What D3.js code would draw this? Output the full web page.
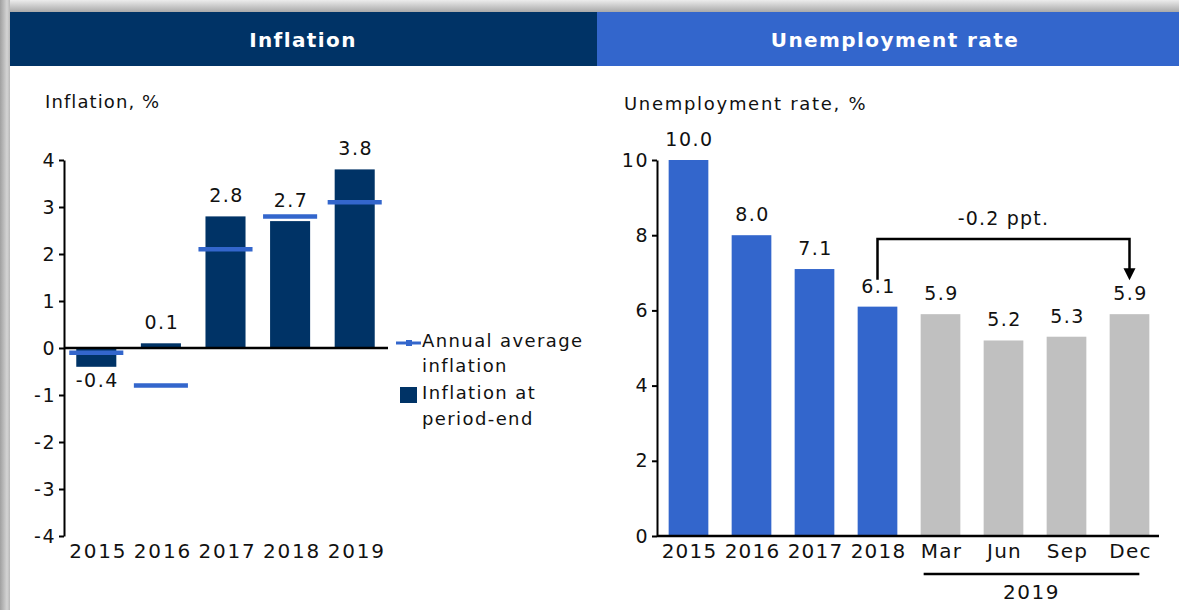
<!DOCTYPE html>
<html>
<head>
<meta charset="utf-8">
<script src="https://cdn.jsdelivr.net/npm/d3@7"></script>
<style>
  body { margin: 0; background: #fff; }
  text { font-family: "DejaVu Sans", Verdana, sans-serif; fill: #111; }
</style>
</head>
<body>
<script>

// inflation panel
var inflYears = ["2015", "2016", "2017", "2018", "2019"];
var inflEnd = [-0.4, 0.1, 2.8, 2.7, 3.8];       // inflation at period-end
var inflAvg = [-0.1, -0.8, 2.1, 2.8, 3.1];      // annual average inflation
var inflTicks = [-4, -3, -2, -1, 0, 1, 2, 3, 4];

// unemployment panel
var unempCats = ["2015", "2016", "2017", "2018", "Mar", "Jun", "Sep", "Dec"];
var unempVals = [10.0, 8.0, 7.1, 6.1, 5.9, 5.2, 5.3, 5.9];
var unempTicks = [0, 2, 4, 6, 8, 10];

var navy = "#003366", blue = "#3366cc", grey = "#c0c0c0";

var W = 1179, H = 610;
var svg = d3.select("body").append("svg")
    .attr("width", W)
    .attr("height", H);

var defs = svg.append("defs");
var gTop = defs.append("linearGradient").attr("id", "shTop")
    .attr("x1", 0).attr("y1", 0).attr("x2", 0).attr("y2", 1);
gTop.append("stop").attr("offset", "0%").attr("stop-color", "#ececec");
gTop.append("stop").attr("offset", "100%").attr("stop-color", "#a9a9a9");
var gLeft = defs.append("linearGradient").attr("id", "shLeft")
    .attr("x1", 0).attr("y1", 0).attr("x2", 1).attr("y2", 0);
gLeft.append("stop").attr("offset", "0%").attr("stop-color", "#a0a0a0");
gLeft.append("stop").attr("offset", "70%").attr("stop-color", "#d4d4d4");
gLeft.append("stop").attr("offset", "100%").attr("stop-color", "#b8b8b8");

// frame shadow
svg.append("rect").attr("x", 0).attr("y", 0).attr("width", W).attr("height", 12)
    .attr("fill", "url(#shTop)");
svg.append("rect").attr("x", 0).attr("y", 0).attr("width", 10).attr("height", H)
    .attr("fill", "url(#shLeft)");

// header bars
svg.append("rect").attr("x", 10).attr("y", 12).attr("width", 587).attr("height", 54).attr("fill", navy);
svg.append("rect").attr("x", 597).attr("y", 12).attr("width", W - 597).attr("height", 54).attr("fill", blue);

svg.append("text").attr("x", 303).attr("y", 47)
    .attr("text-anchor", "middle")
    .style("fill", "#fff").style("font-weight", "bold").style("font-size", "20px")
    .style("letter-spacing", "1.4px")
    .text("Inflation");
svg.append("text").attr("x", 895).attr("y", 47)
    .attr("text-anchor", "middle")
    .style("fill", "#fff").style("font-weight", "bold").style("font-size", "20px")
    .style("letter-spacing", "1.4px")
    .text("Unemployment rate");

// plain hyphen for negatives, like the original
var fmtTick = function (d) { return String(d); };

// ---------- left: inflation ----------
var xL = d3.scaleBand()
    .domain(inflYears)
    .range([64, 387])
    .paddingInner(0.38)
    .paddingOuter(0.19);

var yL = d3.scaleLinear()
    .domain([-4, 4])
    .range([536, 160]);

var left = svg.append("g");

left.append("text").attr("x", 45).attr("y", 108)
    .style("font-size", "18px").style("letter-spacing", "1.1px")
    .text("Inflation, %");

left.selectAll(".barL")
    .data(inflEnd)
    .enter().append("rect")
    .attr("class", "barL")
    .attr("x", function (d, i) { return xL(inflYears[i]); })
    .attr("y", function (d) { return yL(Math.max(0, d)); })
    .attr("width", xL.bandwidth())
    .attr("height", function (d) { return Math.abs(yL(d) - yL(0)); })
    .attr("fill", navy);

var yAxisL = d3.axisLeft(yL).tickValues(inflTicks).tickFormat(fmtTick)
    .tickSize(5).tickSizeOuter(0).tickPadding(3);
var gyL = left.append("g")
    .attr("transform", "translate(" + xL.range()[0] + ",0)")
    .call(yAxisL);
gyL.select(".domain").attr("stroke", "#000").attr("stroke-width", 2);
gyL.selectAll(".tick line").attr("stroke", "#000").attr("stroke-width", 2);
gyL.selectAll(".tick text")
    .style("font-size", "19px").style("letter-spacing", "1.5px")
    .style("font-family", "DejaVu Sans").attr("fill", "#111");

// zero line
left.append("line")
    .attr("x1", xL.range()[0]).attr("x2", xL.range()[1] + 1)
    .attr("y1", yL(0)).attr("y2", yL(0))
    .attr("stroke", "#000").attr("stroke-width", 2.5);

// annual average dashes
var dashW = xL.bandwidth() * 1.35;
left.selectAll(".avg")
    .data(inflAvg)
    .enter().append("line")
    .attr("class", "avg")
    .attr("x1", function (d, i) { return xL(inflYears[i]) + xL.bandwidth() / 2 - dashW / 2; })
    .attr("x2", function (d, i) { return xL(inflYears[i]) + xL.bandwidth() / 2 + dashW / 2; })
    .attr("y1", function (d) { return yL(d); })
    .attr("y2", function (d) { return yL(d); })
    .attr("stroke", blue).attr("stroke-width", 4.5);

// value labels
left.selectAll(".lblL")
    .data(inflEnd)
    .enter().append("text")
    .attr("class", "lblL")
    .attr("x", function (d, i) { return xL(inflYears[i]) + xL.bandwidth() / 2 + 1; })
    .attr("y", function (d) { return d < 0 ? yL(d) + 20 : yL(d) - 14; })
    .attr("text-anchor", "middle")
    .style("font-size", "19px").style("letter-spacing", "1.5px")
    .text(function (d) { return d.toFixed(1); });

// x labels
left.selectAll(".xlL")
    .data(inflYears)
    .enter().append("text")
    .attr("class", "xlL")
    .attr("x", function (d) { return xL(d) + xL.bandwidth() / 2 + 2; })
    .attr("y", 558)
    .attr("text-anchor", "middle")
    .style("font-size", "20px").style("letter-spacing", "1.8px")
    .text(function (d) { return d; });

// legend
var lg = left.append("g").attr("transform", "translate(396,0)");
lg.append("line").attr("x1", 0).attr("x2", 25).attr("y1", 343).attr("y2", 343)
    .attr("stroke", blue).attr("stroke-width", 3);
lg.append("rect").attr("x", 10).attr("y", 340).attr("width", 6).attr("height", 6).attr("fill", blue);
lg.append("text").attr("x", 26).attr("y", 347).style("font-size", "18px").style("letter-spacing", "1.4px")
    .text("Annual average");
lg.append("text").attr("x", 26).attr("y", 372).style("font-size", "18px").style("letter-spacing", "1.4px")
    .text("inflation");
lg.append("rect").attr("x", 4).attr("y", 387).attr("width", 17).attr("height", 16).attr("fill", navy);
lg.append("text").attr("x", 26).attr("y", 399).style("font-size", "18px").style("letter-spacing", "1.4px")
    .text("Inflation at");
lg.append("text").attr("x", 26).attr("y", 425).style("font-size", "18px").style("letter-spacing", "1.4px")
    .text("period-end");

// ---------- right: unemployment ----------
var xR = d3.scaleBand()
    .domain(unempCats)
    .range([657, 1161])
    .paddingInner(0.37)
    .paddingOuter(0.185);

var yR = d3.scaleLinear()
    .domain([0, 10])
    .range([536, 160]);

var right = svg.append("g");

right.append("text").attr("x", 624).attr("y", 110)
    .style("font-size", "18px").style("letter-spacing", "1.7px")
    .text("Unemployment rate, %");

right.selectAll(".barR")
    .data(unempVals)
    .enter().append("rect")
    .attr("class", "barR")
    .attr("x", function (d, i) { return xR(unempCats[i]); })
    .attr("y", function (d) { return yR(d); })
    .attr("width", xR.bandwidth())
    .attr("height", function (d) { return yR(0) - yR(d); })
    .attr("fill", function (d, i) { return i < 4 ? blue : grey; });

var yAxisR = d3.axisLeft(yR).tickValues(unempTicks).tickFormat(fmtTick)
    .tickSize(5).tickSizeOuter(0).tickPadding(3);
var gyR = right.append("g")
    .attr("transform", "translate(" + xR.range()[0] + ",0)")
    .call(yAxisR);
gyR.select(".domain").attr("stroke", "#000").attr("stroke-width", 2);
gyR.selectAll(".tick line").attr("stroke", "#000").attr("stroke-width", 2);
gyR.selectAll(".tick text")
    .style("font-size", "19px").style("letter-spacing", "1.5px")
    .style("font-family", "DejaVu Sans").attr("fill", "#111");

right.append("line")
    .attr("x1", xR.range()[0]).attr("x2", xR.range()[1] - 2)
    .attr("y1", yR(0)).attr("y2", yR(0))
    .attr("stroke", "#000").attr("stroke-width", 2.5);

right.selectAll(".lblR")
    .data(unempVals)
    .enter().append("text")
    .attr("class", "lblR")
    .attr("x", function (d, i) { return xR(unempCats[i]) + xR.bandwidth() / 2 + 1; })
    .attr("y", function (d) { return yR(d) - 14; })
    .attr("text-anchor", "middle")
    .style("font-size", "19px").style("letter-spacing", "1.5px")
    .text(function (d) { return d.toFixed(1); });

right.selectAll(".xlR")
    .data(unempCats)
    .enter().append("text")
    .attr("class", "xlR")
    .attr("x", function (d) { return xR(d) + xR.bandwidth() / 2 + 1; })
    .attr("y", 558)
    .attr("text-anchor", "middle")
    .style("font-size", "20px").style("letter-spacing", "1.2px")
    .text(function (d) { return d; });

// 2019 group line
var grpX1 = xR("Mar") + 3, grpX2 = xR("Dec") + xR.bandwidth() - 10;
right.append("line")
    .attr("x1", grpX1).attr("x2", grpX2)
    .attr("y1", 574).attr("y2", 574)
    .attr("stroke", "#000").attr("stroke-width", 2.5);
right.append("text")
    .attr("x", (grpX1 + grpX2) / 2).attr("y", 599)
    .attr("text-anchor", "middle")
    .style("font-size", "20px").style("letter-spacing", "1.5px")
    .text("2019");

// change bracket 2018 -> Dec
var bx1 = xR("2018") + xR.bandwidth() / 2,
    bx2 = xR("Dec") + xR.bandwidth() / 2,
    bTop = yR(7.9),
    bStart = yR(unempVals[3]) - 27,
    bEnd = yR(unempVals[7]) - 34;
right.append("path")
    .attr("d", "M" + bx1 + "," + bStart + "V" + bTop + "H" + bx2 + "V" + (bEnd - 10))
    .attr("fill", "none").attr("stroke", "#000").attr("stroke-width", 2.5);
right.append("path")
    .attr("d", "M" + (bx2 - 6) + "," + (bEnd - 12) + "L" + (bx2 + 6) + "," + (bEnd - 12) + "L" + bx2 + "," + bEnd + "Z")
    .attr("fill", "#000");
right.append("text")
    .attr("x", (bx1 + bx2) / 2).attr("y", bTop - 14)
    .attr("text-anchor", "middle")
    .style("font-size", "19px").style("letter-spacing", "1.2px")
    .text("-0.2 ppt.");

</script>
</body>
</html>
